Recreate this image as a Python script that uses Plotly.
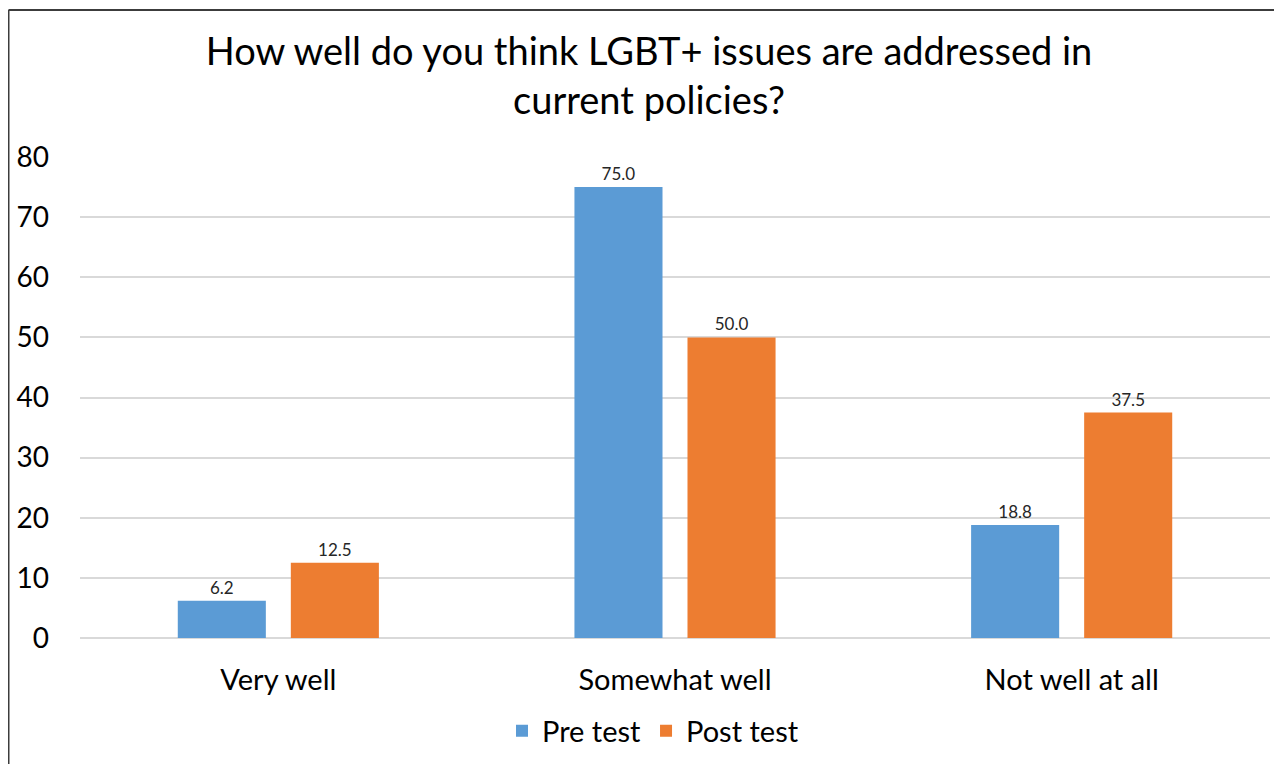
import plotly.graph_objects as go

categories = ["Very well", "Somewhat well", "Not well at all"]
pre_test = [6.2, 75.0, 18.8]
post_test = [12.5, 50.0, 37.5]
y_ticks = [0, 10, 20, 30, 40, 50, 60, 70, 80]

FONT = "Lato, 'Open Sans', sans-serif"
# page has an 8px body margin; figure coords = page coords - 8
W, H = 1274, 756
L, R, T, B = 72, 12, 149, 126

fig = go.Figure()
fig.add_trace(go.Bar(
    name="Pre test", x=categories, y=pre_test,
    marker=dict(color="#5B9BD5", line=dict(width=0)),
    text=[f"{v:.1f}" for v in pre_test], textposition="outside",
    textfont=dict(size=17, color="#262626", family=FONT), cliponaxis=False,
))
fig.add_trace(go.Bar(
    name="Post test", x=categories, y=post_test,
    marker=dict(color="#ED7D31", line=dict(width=0)),
    text=[f"{v:.1f}" for v in post_test], textposition="outside",
    textfont=dict(size=17, color="#262626", family=FONT), cliponaxis=False,
))

pw = W - L - R
ph = H - T - B
fig.update_layout(
    width=W, height=H,
    margin=dict(l=L, r=R, t=T, b=B, pad=0, autoexpand=False),
    paper_bgcolor="white", plot_bgcolor="white",
    font=dict(family=FONT, color="black"),
    barmode="group", bargap=0.43, bargroupgap=0.221,
    title=dict(text="How well do you think LGBT+ issues are addressed in<br>current policies?",
               x=641 / W, xref="container", xanchor="center",
               y=1 - 57 / H, yref="container", yanchor="middle",
               font=dict(size=38, family=FONT, color="black")),
    showlegend=True,
    legend=dict(orientation="h", x=645 / W, xref="container", xanchor="center",
                y=1 - 723 / H, yref="container", yanchor="middle",
                font=dict(size=29, family=FONT, color="black"),
                itemsizing="constant", traceorder="normal", itemwidth=30),
    xaxis=dict(showgrid=False, showline=False, ticks="", zeroline=False,
               automargin=False,
               tickfont=dict(size=29, family=FONT, color="black"),
               ticklabelstandoff=22),
    yaxis=dict(range=[0, 80], tickvals=y_ticks, showgrid=True, gridcolor="#D9D9D9",
               gridwidth=1.5, zeroline=True, zerolinecolor="#D9D9D9", zerolinewidth=1.5,
               showline=False, ticks="", automargin=False,
               tickfont=dict(size=28, family=FONT, color="black"),
               ticklabelstandoff=30),
)

# chart frame (top and left border)
fig.add_shape(type="line", xref="paper", yref="paper",
              x0=(0.5 - L) / pw, x1=(W - L + 5) / pw,
              y0=(H - B - 2) / ph, y1=(H - B - 2) / ph,
              line=dict(color="#3C3C3C", width=2))
fig.add_shape(type="line", xref="paper", yref="paper",
              x0=(0.5 - L) / pw, x1=(0.5 - L) / pw,
              y0=(H - B - 2) / ph, y1=-(B + 5) / ph,
              line=dict(color="#3C3C3C", width=2))

fig.write_html("out.html")
